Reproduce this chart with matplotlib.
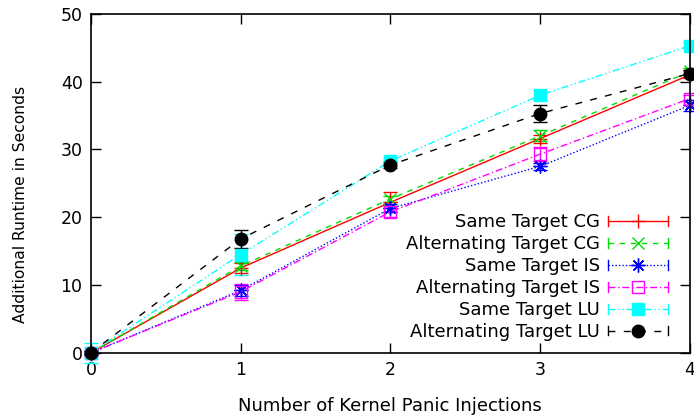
import numpy as np
import matplotlib
matplotlib.use('Agg')
import matplotlib.pyplot as plt
from matplotlib.lines import Line2D
from matplotlib.legend_handler import HandlerLine2D


# Data

injections = [0, 1, 2, 3, 4]

same_cg     = [0, 12.5, 22.2, 31.6, 41.0]
alt_cg      = [0, 12.8, 22.7, 32.0, 41.5]
same_is     = [0, 9.2, 21.3, 27.5, 36.5]
alt_is      = [0, 9.0, 20.8, 29.3, 37.5]
same_lu     = [0, 14.5, 28.3, 38.0, 45.3]
alt_lu      = [0, 16.8, 27.7, 35.3, 41.2]

err_same_cg = [0.3, 0.8, 1.5, 0.6, 0.5]
err_alt_cg  = [0.3, 0.6, 0.5, 0.8, 0.5]
err_same_is = [0.3, 0.8, 0.6, 0.5, 0.8]
err_alt_is  = [0.3, 1.2, 0.8, 1.0, 0.5]
err_same_lu = [1.5, 3.0, 0.5, 0.7, 0.5]
err_alt_lu  = [0.3, 1.3, 0.5, 1.2, 0.5]

labels = ['Same Target CG', 'Alternating Target CG', 'Same Target IS',
          'Alternating Target IS', 'Same Target LU', 'Alternating Target LU']


class CapHandler(HandlerLine2D):
    # gnuplot style key sample: line with small end ticks
    def create_artists(self, legend, orig_handle, xdescent, ydescent,
                       width, height, fontsize, trans):
        arts = super().create_artists(legend, orig_handle, xdescent, ydescent,
                                      width, height, fontsize, trans)
        yc = (height - ydescent) / 2
        for x in (-xdescent, -xdescent + width):
            cap = Line2D([x, x], [yc - 3.5, yc + 3.5], color=orig_handle.get_color(),
                         lw=1, transform=trans)
            arts.append(cap)
        return arts


series = [
    (same_cg, err_same_cg, '#ff0000', '-', '+', 'none', 10),
    (alt_cg, err_alt_cg, '#00dd00', (0, (4, 4)), 'x', 'none', 9),
    (same_is, err_same_is, '#0000ff', (0, (1, 1.5)), (8, 2, 0), 'none', 10),
    (alt_is, err_alt_is, '#ff00ff', (0, (5, 2, 1, 2)), 's', 'none', 8.5),
    (same_lu, err_same_lu, '#00ffff', (0, (5, 2, 1, 2, 1, 2)), 's', '#00ffff', 9),
    (alt_lu, err_alt_lu, '#000000', (0, (5, 6)), 'o', '#000000', 9),
]

fig = plt.figure(figsize=(6.94, 4.2), dpi=100)
ax = fig.add_axes([0.131, 0.16, 0.863, 0.807])

handles = []
for (vals, err, col, ls, mk, fc, ms), lab in zip(series, labels):
    eb = ax.errorbar(injections, vals, yerr=err, color=col, linestyle=ls, lw=1,
                     marker=mk, markersize=ms, markerfacecolor=fc,
                     markeredgecolor=col, markeredgewidth=1,
                     capsize=5, elinewidth=1, capthick=1)
    for a in eb.lines[0:1] + tuple(eb.lines[1]) + tuple(eb.lines[2]):
        a.set_clip_on(False)
    handles.append(Line2D([], [], color=col, linestyle=ls, lw=1, marker=mk,
                          markersize=ms, markerfacecolor=fc, markeredgecolor=col))

ax.set_xlim(0, 4)
ax.set_ylim(0, 50)
ax.set_xticks([0, 1, 2, 3, 4])
ax.set_yticks([0, 10, 20, 30, 40, 50])
ax.tick_params(direction='in', length=7, width=1, top=True, right=True,
               labelsize=12.5, pad=6)
for s in ax.spines.values():
    s.set_linewidth(1.2)

ax.set_xlabel('Number of Kernel Panic Injections', fontsize=13, labelpad=13)
ax.set_ylabel('Additional Runtime in Seconds', fontsize=11.2)
ax.yaxis.set_label_coords(-0.105, 0.437)

leg = ax.legend(handles, labels, loc='lower right', bbox_to_anchor=(0.963, 0.035),
                markerfirst=False, frameon=False, fontsize=13, handlelength=3.3,
                handletextpad=0.44, labelspacing=0.22, borderaxespad=0,
                borderpad=0, handler_map={Line2D: CapHandler()})

plt.savefig('out.png', dpi=100)
